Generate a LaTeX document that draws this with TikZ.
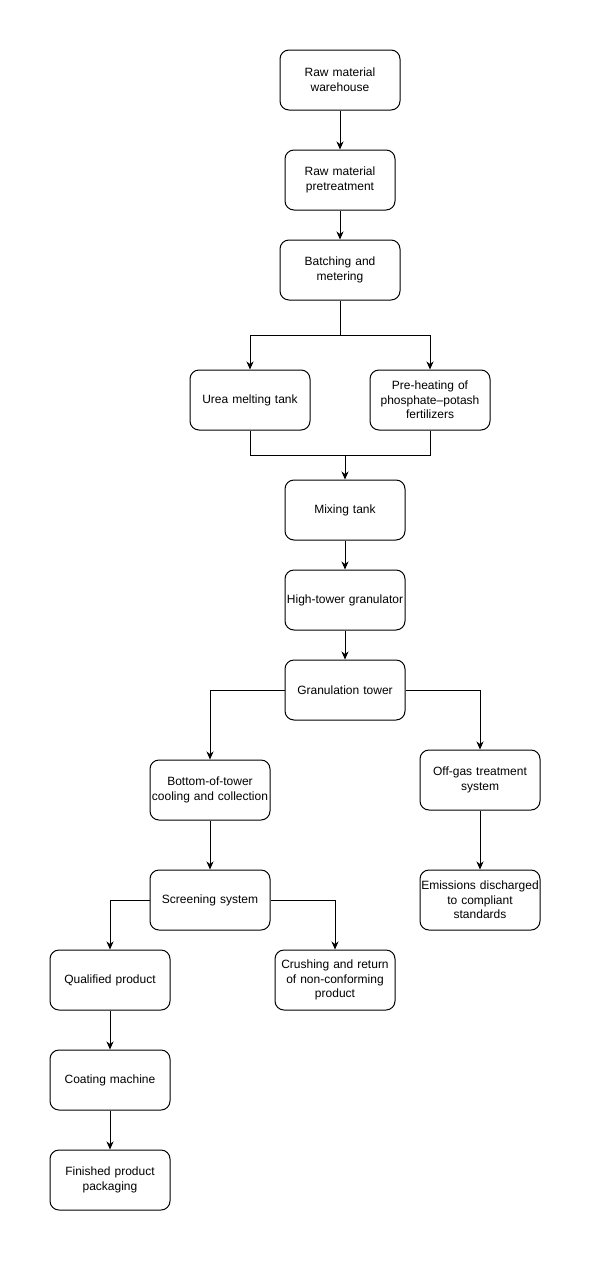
\documentclass[tikz,border=0pt]{standalone}
\usepackage{fontspec}
\setmainfont{Liberation Sans}
\usetikzlibrary{arrows.meta}
\begin{document}
\begin{tikzpicture}[x=1pt,y=-1pt,
  box/.style={draw=black, line width=1pt, rounded corners=9pt, minimum width=120pt, minimum height=60pt,
    inner sep=0pt, text width=118pt, align=center, font=\fontsize{12pt}{14.6pt}\selectfont},
  flow/.style={draw=black, line width=1pt, -{Stealth[length=8pt,width=7pt,inset=2.5pt]}},
  plain/.style={draw=black, line width=1pt}]
\useasboundingbox (0,0) rectangle (591,1261);
\node[box] (w) at (340,80) {Raw material\\warehouse};
\node[box, minimum width=110pt, text width=108pt] (pre) at (340,180) {Raw material\\pretreatment};
\node[box] (bat) at (340,270) {Batching and\\metering};
\node[box] (urea) at (250,400) {Urea melting tank};
\node[box] (phk) at (430,400) {Pre-heating of\\phosphate–potash\\fertilizers};
\node[box] (mix) at (345,510) {Mixing tank};
\node[box] (htg) at (345,600) {High-tower granulator};
\node[box] (gt) at (345,690) {Granulation tower};
\node[box] (btc) at (210,790) {Bottom-of-tower\\cooling and collection};
\node[box] (ogt) at (480,780) {Off-gas treatment\\system};
\node[box] (scr) at (210,900) {Screening system};
\node[box] (emi) at (480,900) {Emissions discharged\\to compliant\\standards};
\node[box] (qp) at (110,980) {Qualified product};
\node[box] (cru) at (335,980) {Crushing and return\\of non-conforming\\product};
\node[box] (coat) at (110,1080) {Coating machine};
\node[box] (fin) at (110,1180) {Finished product\\packaging};
\coordinate (j1) at (340,335);
\coordinate (j2) at (345,455);
\path[flow] (w) -- (pre);
\path[flow] (pre) -- (bat);
\path[plain] (bat.south) -- (j1);
\path[flow] (j1) -| (urea.north);
\path[flow] (j1) -| (phk.north);
\path[plain] (urea.south) |- (j2);
\path[plain] (phk.south) |- (j2);
\path[flow] (j2) -- (mix.north);
\path[flow] (mix) -- (htg);
\path[flow] (htg) -- (gt);
\path[flow] (gt.west) -| (btc.north);
\path[flow] (gt.east) -| (ogt.north);
\path[flow] (btc) -- (scr);
\path[flow] (ogt) -- (emi);
\path[flow] (scr.west) -| (qp.north);
\path[flow] (scr.east) -| (cru.north);
\path[flow] (qp) -- (coat);
\path[flow] (coat) -- (fin);
\end{tikzpicture}
\end{document}
